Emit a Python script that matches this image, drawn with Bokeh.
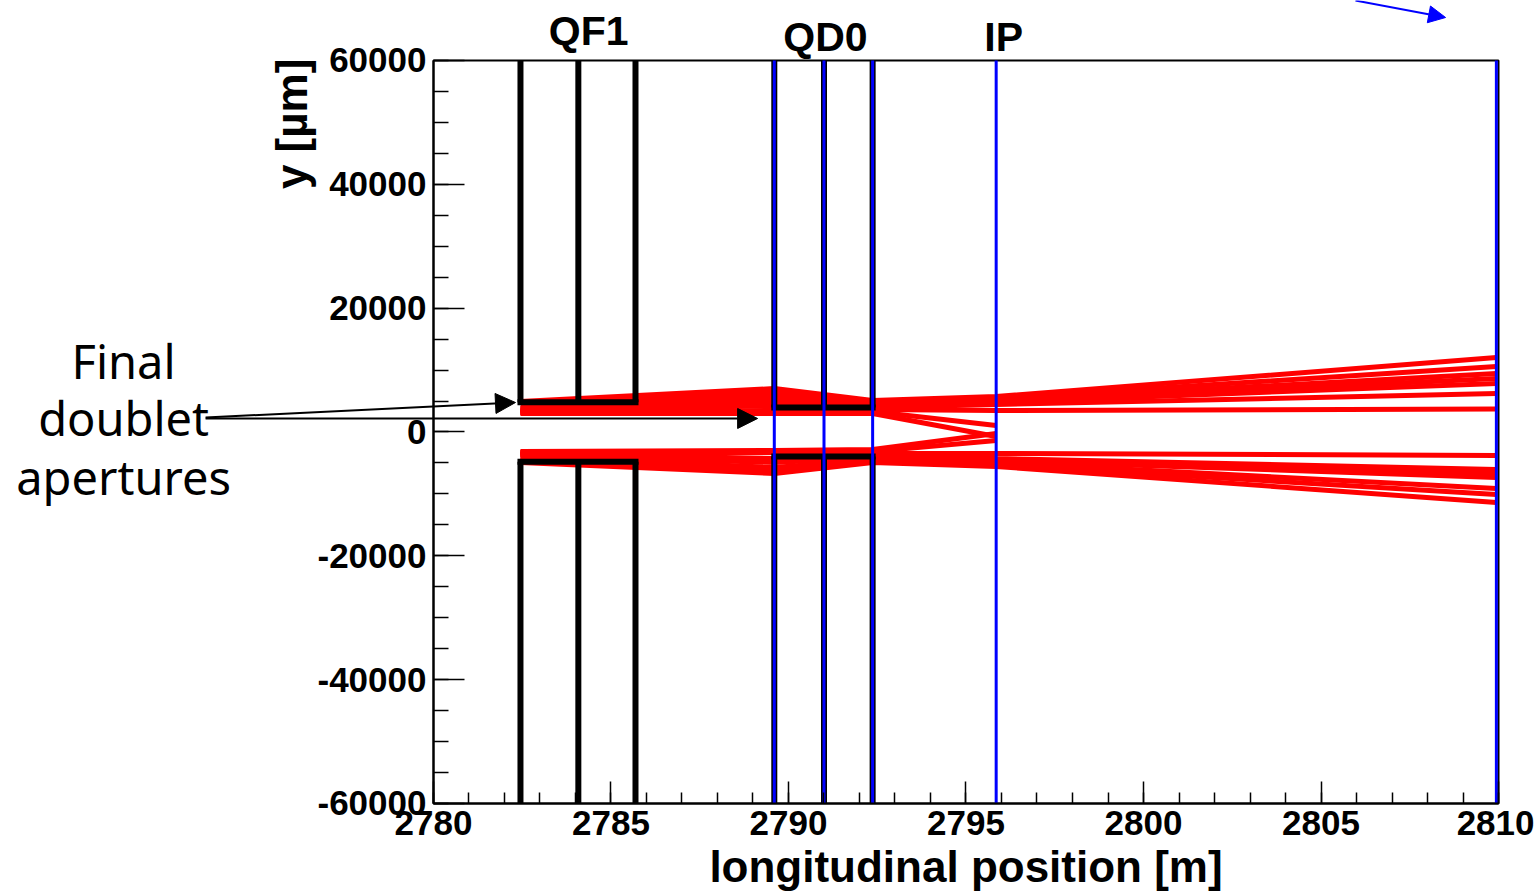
from bokeh.plotting import figure
from bokeh.models import (Range1d, SingleIntervalTicker, CustomJSTickFormatter, Label,
                          Arrow, NormalHead)
from bokeh.embed import file_html
from bokeh.resources import INLINE

# ---------------- data ----------------
# axis limits
x_lo, x_hi = 2780, 2810
y_lo, y_hi = -60000, 60000
# magnet edges [m] and half apertures [um]
qf1_edges = [2782.45, 2784.08, 2785.69]
qf1_aperture = 4800
qd0_edges = [2789.6, 2791.0, 2792.37]
qd0_aperture = 3950
# blue reference lines [m] (QD0 edges, IP, end)
marker_lines = [2789.6, 2791.0, 2792.37, 2795.85, 2809.94]

# ray trajectories, y [um] at these longitudinal positions
ray_z = [2782.45, 2789.6, 2792.37, 2795.85, 2809.94]
upper_rays = [
    [4926, 7025, 5087, 5733, 12032],
    [4441, 6541, 4764, 5410, 10578],
    [3795, 5895, 4441, 5087, 9448],
    [3634, 5410, 4280, 4926, 8640],
    [3472, 4926, 4118, 4764, 7833],
    [3311, 4280, 3957, 4441, 6218],
    [3149, 3472, 3634, 3472, 3714],
]
lower_rays = [
    [-4926, -6702, -4926, -5572, -11386],
    [-4441, -6218, -4603, -5249, -10093],
    [-3957, -5733, -4441, -4926, -9125],
    [-3634, -4926, -4118, -4603, -7348],
    [-3634, -4603, -3957, -4441, -6702],
    [-3472, -4280, -3795, -4280, -6056],
    [-3311, -3311, -3472, -3472, -3795],
]
# rays that stop at the IP
lost_z = [2782.45, 2789.6, 2792.37, 2795.85]
lost_rays = [
    [3149, 3149, 3311, 1050],
    [2988, 2988, 2988, -727],
    [-3311, -3311, -3149, -1373],
    [-3149, -2988, -2826, -242],
]

magnet_names = ["QF1", "QD0", "IP"]

# ---------------- figure ----------------
BOLD = "Liberation Sans"
# the frame fills the whole canvas; the axes sit at fixed locations
p = figure(width=1534, height=895, output_backend="svg", toolbar_location=None,
           x_range=Range1d(2767.803, 2811.014), y_range=Range1d(-74859, 69690),
           min_border=0)
p.background_fill_color = "white"
p.border_fill_color = "white"
p.outline_line_color = None
p.xgrid.visible = False
p.ygrid.visible = False

xa = p.xaxis[0]
xa.fixed_location = y_lo
xa.bounds = (x_lo, x_hi)
xa.ticker = SingleIntervalTicker(interval=5, num_minor_ticks=5)
xa.formatter = CustomJSTickFormatter(code="return tick.toFixed(0)")
xa.major_tick_in = 22
xa.major_tick_out = 0
xa.minor_tick_in = 11
xa.minor_tick_out = 0
xa.axis_line_width = 2
xa.major_tick_line_width = 1.5
xa.minor_tick_line_width = 1.5
xa.major_label_text_font = BOLD
xa.major_label_text_font_style = "bold"
xa.major_label_text_font_size = "35px"
xa.major_label_text_color = "black"
xa.major_label_standoff = 8
xa.axis_label = "longitudinal position [m]"
xa.axis_label_text_font = BOLD
xa.axis_label_text_font_style = "bold"
xa.axis_label_text_font_size = "44px"
xa.axis_label_text_color = "black"
xa.axis_label_standoff = 3

ya = p.yaxis[0]
ya.fixed_location = x_lo
ya.bounds = (y_lo, y_hi)
ya.ticker = SingleIntervalTicker(interval=20000, num_minor_ticks=4)
ya.formatter = CustomJSTickFormatter(code="return tick.toFixed(0)")
ya.major_tick_in = 31
ya.major_tick_out = 0
ya.minor_tick_in = 15
ya.minor_tick_out = 0
ya.axis_line_width = 2
ya.major_tick_line_width = 1.5
ya.minor_tick_line_width = 1.5
ya.major_label_text_font = BOLD
ya.major_label_text_font_style = "bold"
ya.major_label_text_font_size = "35px"
ya.major_label_text_color = "black"
ya.major_label_standoff = 7

# frame box (top and right edges)
p.quad(left=[x_lo], right=[x_hi], bottom=[y_lo], top=[y_hi], fill_color=None,
       line_color="black", line_width=2)

# rays
p.multi_line([ray_z] * len(upper_rays), upper_rays, line_color="red", line_width=5)
p.multi_line([ray_z] * len(lower_rays), lower_rays, line_color="red", line_width=5)
p.multi_line([lost_z] * len(lost_rays), lost_rays, line_color="red", line_width=5)

# apertures (black)
for edges, ap in ((qf1_edges, qf1_aperture), (qd0_edges, qd0_aperture)):
    p.segment(x0=edges, y0=[ap] * 3, x1=edges, y1=[y_hi] * 3,
              line_color="black", line_width=6)
    p.segment(x0=edges, y0=[-ap] * 3, x1=edges, y1=[y_lo] * 3,
              line_color="black", line_width=6)
    p.segment(x0=[edges[0], edges[0]], y0=[ap, -ap], x1=[edges[-1], edges[-1]],
              y1=[ap, -ap], line_color="black", line_width=6, line_cap="square")

# blue lines
p.segment(x0=marker_lines, y0=[y_lo] * len(marker_lines), x1=marker_lines,
          y1=[y_hi] * len(marker_lines), line_color="blue", line_width=3)

# magnet labels above the frame
for name, xc, yc in zip(magnet_names, [2784.37, 2791.04, 2796.06], [64842, 63873, 63873]):
    p.add_layout(Label(x=xc, y=yc, text=name, text_align="center", text_baseline="middle",
                       text_font=BOLD, text_font_style="bold", text_font_size="41px",
                       text_color="black"))

# y axis title (top aligned, rotated)
p.add_layout(Label(x=2776.0, y=60300, text="y [\u00b5m]", angle=1.5708,
                   text_align="right", text_baseline="middle", text_font=BOLD,
                   text_font_style="bold", text_font_size="44px", text_color="black"))

# annotation text
for txt, yc in (("Final", 11547), ("doublet", 2180), ("apertures", -7348)):
    p.add_layout(Label(x=2771.27, y=yc, text=txt, text_align="center",
                       text_baseline="middle", text_font="Noto Sans",
                       text_font_size="47px", text_color="black"))

# arrows
p.add_layout(Arrow(end=NormalHead(size=20, fill_color="black", line_color="black"),
                   x_start=2773.58, y_start=2342, x_end=2782.31, y_end=4764,
                   line_color="black", line_width=2))
p.add_layout(Arrow(end=NormalHead(size=20, fill_color="black", line_color="black"),
                   x_start=2773.58, y_start=2180, x_end=2789.13, y_end=2180,
                   line_color="black", line_width=2))
p.add_layout(Arrow(end=NormalHead(size=17, fill_color="blue", line_color="blue"),
                   x_start=2805.97, y_start=69687, x_end=2808.51, y_end=66942,
                   line_color="blue", line_width=2))

open("out.html", "w").write(file_html(p, INLINE))
